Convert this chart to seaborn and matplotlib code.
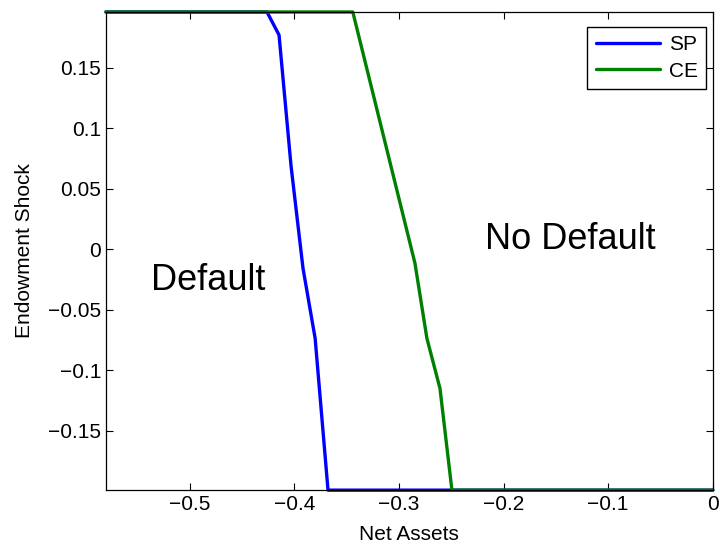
import numpy as np
import pandas as pd
import seaborn as sns
import matplotlib.pyplot as plt
from matplotlib.ticker import FuncFormatter

# Default thresholds
sp_assets = [-0.58, -0.426, -0.4145, -0.403, -0.3916, -0.380, -0.3677, 0.0]
sp_shock = [0.196, 0.196, 0.177, 0.0686, -0.0157, -0.0736, -0.199, -0.199]

ce_assets = [-0.58, -0.344, -0.2846, -0.2732, -0.2607, -0.2493, 0.0]
ce_shock = [0.196, 0.196, -0.0116, -0.0736, -0.115, -0.199, -0.199]

x_ticks = [-0.5, -0.4, -0.3, -0.2, -0.1, 0.0]
y_ticks = [-0.15, -0.1, -0.05, 0.0, 0.05, 0.1, 0.15]

df = pd.concat([
    pd.DataFrame({'Net Assets': sp_assets, 'Endowment Shock': sp_shock, 'model': 'SP'}),
    pd.DataFrame({'Net Assets': ce_assets, 'Endowment Shock': ce_shock, 'model': 'CE'}),
], ignore_index=True)

sns.set_style('ticks')
plt.rcParams['font.family'] = ['Liberation Sans', 'DejaVu Sans']
plt.rcParams['text.color'] = 'black'
plt.rcParams['axes.labelcolor'] = 'black'
plt.rcParams['xtick.color'] = 'black'
plt.rcParams['ytick.color'] = 'black'

fig = plt.figure(figsize=(7.2, 5.44), dpi=100)
ax = fig.add_axes([0.147, 0.099, 0.843, 0.879])

sns.lineplot(data=df, x='Net Assets', y='Endowment Shock', hue='model',
             palette={'SP': (0, 0, 1), 'CE': (0, 0.5, 0)},
             sort=False, estimator=None, linewidth=2.4, ax=ax)
for ln in ax.lines:
    ln.set_clip_on(False)

ax.set_xlim(-0.58, 0.0)
ax.set_ylim(-0.199, 0.196)
ax.set_xticks(x_ticks)
ax.set_yticks(y_ticks)
fmt = FuncFormatter(lambda v, p: ('%g' % round(v, 3)).replace('-', '\u2212'))
ax.xaxis.set_major_formatter(fmt)
ax.yaxis.set_major_formatter(fmt)
ax.tick_params(direction='in', top=True, right=True, labelsize=15, length=5, width=0.8)
ax.set_xlabel('Net Assets', fontsize=15, labelpad=8)
ax.set_ylabel('Endowment Shock', fontsize=15, labelpad=10)
for s in ax.spines.values():
    s.set_linewidth(0.9)
    s.set_color('black')

ax.text(-0.482, -0.0256, 'Default', fontsize=26, ha='center', va='center')
ax.text(-0.1366, 0.0083, 'No Default', fontsize=26, ha='center', va='center')

leg = ax.get_legend()
handles = leg.legend_handles
labels = [t.get_text() for t in leg.get_texts()]
ax.legend(handles, labels, loc='upper right', bbox_to_anchor=(706 / 720, 1 - 27 / 544),
          bbox_transform=fig.transFigure, fontsize=15, fancybox=False,
          edgecolor='black', framealpha=1, borderaxespad=0,
          handlelength=3.1, handletextpad=0.4, labelspacing=0.35, borderpad=0.4)

fig.savefig('out.png', dpi=100)
